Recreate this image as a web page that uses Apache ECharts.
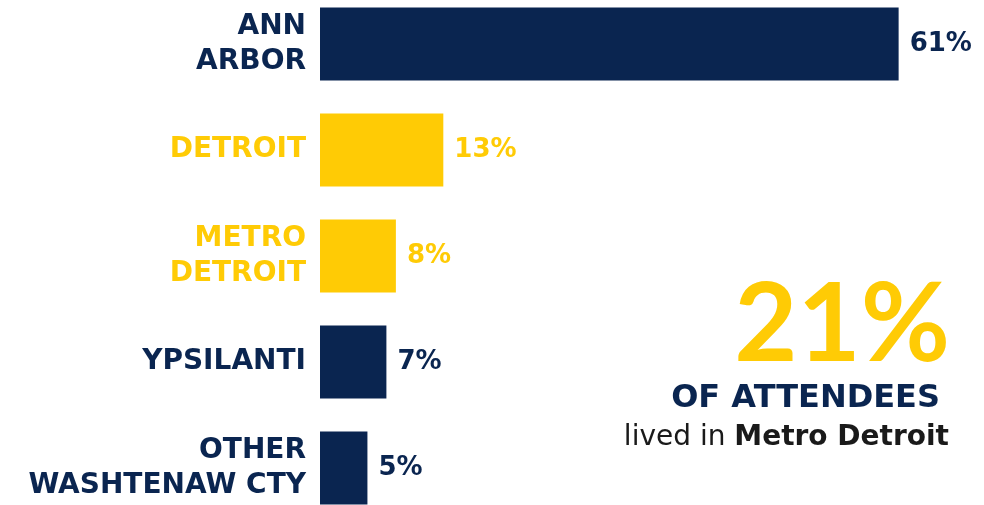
<!DOCTYPE html>
<html>
<head>
<meta charset="utf-8">
<script src="https://cdn.jsdelivr.net/npm/echarts@6/dist/echarts.min.js"></script>
<style>
  html, body { margin: 0; padding: 0; background: #fff; }
  #chart { width: 984px; height: 505px; }
</style>
</head>
<body>
<div id="chart"></div>
<script>
// share of attendees by place of residence
const categories = ["ANN\nARBOR", "DETROIT", "METRO\nDETROIT", "YPSILANTI", "OTHER\nWASHTENAW CTY"];
const values = [61, 13, 8, 7, 5];
const metroDetroit = ["DETROIT", "METRO\nDETROIT"];
const calloutValue = "21%";
const calloutTitle = "OF ATTENDEES";

const NAVY = "#0a2550";
const MAIZE = "#ffcb05";

function colorOf(name) {
  return metroDetroit.indexOf(name) >= 0 ? MAIZE : NAVY;
}

const chartDom = echarts.init(document.getElementById("chart"));

chartDom.setOption({
  animation: false,
  grid: {
    top: -9,
    left: 320,
    width: 664,
    height: 530,
    containLabel: false,
    outerBoundsMode: "none",
  },
  xAxis: {
    type: "value",
    min: 0,
    max: 70,
    show: false,
  },
  yAxis: {
    type: "category",
    data: categories,
    inverse: true,
    axisLine: { show: false },
    axisTick: { show: false },
    splitLine: { show: false },
    axisLabel: {
      margin: 14,
      fontFamily: "DejaVu Sans",
      fontWeight: "bold",
      fontSize: 28,
      lineHeight: 35,
      color: function (value) {
        return colorOf(value);
      },
    },
  },
  series: [
    {
      type: "bar",
      barWidth: 73,
      data: values.map(function (v, i) {
        const c = colorOf(categories[i]);
        return {
          value: v,
          itemStyle: { color: c },
          label: { color: c },
        };
      }),
      label: {
        show: true,
        position: "right",
        distance: 11,
        fontFamily: "DejaVu Sans",
        fontWeight: "bold",
        fontSize: 26,
        formatter: "{c}%",
      },
    },
  ],
  graphic: [
    {
      type: "text",
      right: 34,
      top: 271,
      style: {
        text: calloutValue,
        fill: MAIZE,
        font: "bold 109px Lato",
      },
    },
    {
      type: "text",
      right: 44,
      top: 383,
      style: {
        text: calloutTitle,
        fill: NAVY,
        font: "bold 32px 'DejaVu Sans'",
      },
    },
    {
      type: "text",
      right: 35,
      top: 424,
      style: {
        text: "{r|lived in }{b|Metro Detroit}",
        rich: {
          r: { fontFamily: "DejaVu Sans", fontSize: 28, fill: "#1a1a1a" },
          b: { fontFamily: "DejaVu Sans", fontWeight: "bold", fontSize: 28, fill: "#1a1a1a" },
        },
      },
    },
  ],
});

window.addEventListener("resize", () => {
  chartDom.resize();
});
</script>
</body>
</html>
